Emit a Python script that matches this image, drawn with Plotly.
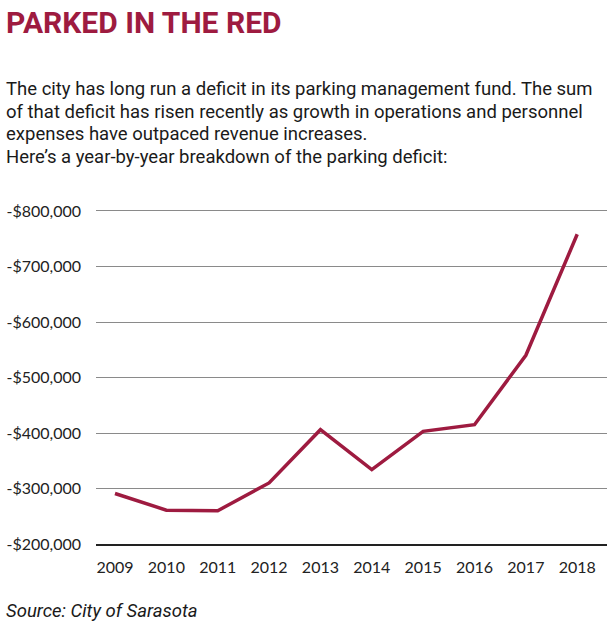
import plotly.graph_objects as go

years = [2009, 2010, 2011, 2012, 2013, 2014, 2015, 2016, 2017, 2018]
deficit = [-291000, -261000, -260000, -310000, -406000, -334000, -403000, -415000, -540000, -758000]
y_ticks = [-200000, -300000, -400000, -500000, -600000, -700000, -800000]
y_tick_labels = ["-$200,000", "-$300,000", "-$400,000", "-$500,000", "-$600,000", "-$700,000", "-$800,000"]
year_labels = [str(y) for y in years]

title = "PARKED IN THE RED"
subtitle_lines = [
    "The city has long run a deficit in its parking management fund. The sum",
    "of that deficit has risen recently as growth in operations and personnel",
    "expenses have outpaced revenue increases.",
    "Here\u2019s a year-by-year breakdown of the parking deficit:",
]
source = "Source: City of Sarasota"

W, H = 613, 639
L, R, T, B = 96, 6, 205, 95
pw, ph = W - L - R, H - T - B

def px(x):
    return (x - L) / pw

def py(y):
    return (H - B - y) / ph

fig = go.Figure()
fig.add_trace(go.Scatter(
    x=years, y=deficit, mode="lines",
    line=dict(color="#9E1B40", width=3.5),
    hoverinfo="skip",
))

font_main = "Roboto, Liberation Sans, sans-serif"
tick_font = dict(family="Lato, Open Sans, sans-serif", size=16, color="#222")

annotations = [
    dict(text="<b>" + title + "</b>", x=px(4), y=py(22), xref="paper", yref="paper",
         xanchor="left", yanchor="middle", showarrow=False,
         font=dict(family="Liberation Sans Narrow, Roboto, sans-serif", size=30, color="#9E1B40")),
]
sub_y = [89, 111.5, 134, 156.5]
for line, yy in zip(subtitle_lines, sub_y):
    annotations.append(dict(text=line, x=px(4), y=py(yy), xref="paper", yref="paper",
                            xanchor="left", yanchor="middle", showarrow=False,
                            font=dict(family=font_main, size=18.5, color="#1a1a1a")))
annotations.append(dict(text="<i>" + source + "</i>", x=px(4), y=py(611), xref="paper", yref="paper",
                        xanchor="left", yanchor="middle", showarrow=False,
                        font=dict(family=font_main, size=18.5, color="#1a1a1a")))

fig.update_layout(
    width=W, height=H,
    margin=dict(l=L, r=R, t=T, b=B),
    paper_bgcolor="white", plot_bgcolor="white",
    showlegend=False,
    annotations=annotations,
    xaxis=dict(
        range=[2008.63, 2018.58],
        tickmode="array", tickvals=years, ticktext=year_labels,
        tickfont=tick_font, showgrid=False, zeroline=False,
        showline=True, linecolor="#222", linewidth=1.5,
        ticks="", ticklabelstandoff=8,
        fixedrange=True,
    ),
    yaxis=dict(
        range=[-200000, -810800],
        tickmode="array", tickvals=y_ticks, ticktext=y_tick_labels,
        tickfont=tick_font, showgrid=True, gridcolor="#8a8a8a", gridwidth=1,
        zeroline=False, showline=False, ticks="", ticklabelstandoff=14,
        fixedrange=True,
    ),
)

fig.write_html("out.html", config={"displayModeBar": False},
               post_script="document.body.style.margin='0';document.body.style.overflow='hidden';")
